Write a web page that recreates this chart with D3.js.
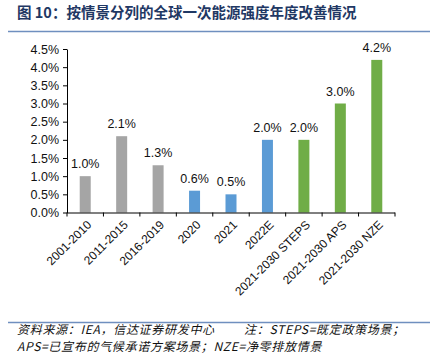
<!DOCTYPE html>
<html><head><meta charset="utf-8">
<script src="https://cdn.jsdelivr.net/npm/d3@7"></script>
<style>
body{margin:0;background:#fff;}
svg{display:block;}
text{font-family:"Liberation Sans",Arial,sans-serif;}
</style></head>
<body><svg id="c" width="430" height="355"></svg>
<script>
const categories = ["2001-2010","2011-2015","2016-2019","2020","2021","2022E","2021-2030 STEPS","2021-2030 APS","2021-2030 NZE"];
const values = [1.0, 2.1, 1.3, 0.6, 0.5, 2.0, 2.0, 3.0, 4.2];
const groups = ["hist","hist","hist","recent","recent","recent","scen","scen","scen"];
const yTicks = [0,0.5,1.0,1.5,2.0,2.5,3.0,3.5,4.0,4.5];
const title = "图 10：按情景分列的全球一次能源强度年度改善情况";
const note1a = "资料来源：IEA，信达证券研发中心";
const note1b = "注：STEPS=既定政策场景；";
const note2 = "APS=已宣布的气候承诺方案场景；NZE=净零排放情景";

const colors = {hist:"#A5A5A5", recent:"#5B9BD5", scen:"#70AD47"};
const svg = d3.select("#c");
const cjk = '"Noto Sans CJK SC", sans-serif';

svg.append("text").attr("x",17).attr("y",18).attr("font-size",14.5).attr("font-weight","bold")
  .attr("fill","#1F3864").style("font-family",cjk).text(title);
svg.append("line").attr("x1",8).attr("x2",430).attr("y1",31.5).attr("y2",31.5).attr("stroke","#6F8FBF").attr("stroke-width",1.5);

const x = d3.scaleBand().domain(categories).range([67,395]).paddingInner(0).paddingOuter(0);
const y = d3.scaleLinear().domain([0,4.5]).range([212.5,49]);

const yAxis = svg.append("g").attr("transform","translate(67,0)")
  .call(d3.axisLeft(y).tickValues(yTicks).tickFormat(d=>d.toFixed(1)+"%").tickSize(4).tickSizeOuter(0));
yAxis.selectAll("text").attr("font-size",12.5).attr("fill","#111").attr("dx",-1);
yAxis.select(".domain").attr("stroke","#000");
yAxis.selectAll(".tick line").attr("stroke","#000");

const bw = 11;
svg.selectAll("rect.bar").data(categories).join("rect").attr("class","bar")
  .attr("x",d=>x(d)+x.bandwidth()/2-bw/2).attr("width",bw)
  .attr("y",(d,i)=>y(values[i])).attr("height",(d,i)=>y(0)-y(values[i]))
  .attr("fill",(d,i)=>colors[groups[i]]);

svg.selectAll("text.val").data(categories).join("text").attr("class","val")
  .attr("x",d=>x(d)+x.bandwidth()/2).attr("y",(d,i)=>y(values[i])-8)
  .attr("text-anchor","middle").attr("font-size",12.5).attr("fill","#111")
  .text((d,i)=>values[i].toFixed(1)+"%");

const xg = svg.append("g");
xg.append("line").attr("x1",67).attr("x2",395).attr("y1",y(0)+0.5).attr("y2",y(0)+0.5).attr("stroke","#000");
const bounds = categories.map(d=>x(d)).concat([395]);
xg.selectAll("line.t").data(bounds).join("line").attr("class","t")
  .attr("x1",d=>d).attr("x2",d=>d).attr("y1",y(0)).attr("y2",y(0)+4).attr("stroke","#000");

svg.selectAll("text.xl").data(categories).join("text").attr("class","xl")
  .attr("transform",d=>`translate(${x(d)+x.bandwidth()/2+4},${y(0)+10}) rotate(-45)`)
  .attr("text-anchor","end").attr("font-size",12).attr("fill","#111").attr("dy","0.35em")
  .text(d=>d);

svg.append("line").attr("x1",8).attr("x2",430).attr("y1",322.5).attr("y2",322.5).attr("stroke","#6F8FBF").attr("stroke-width",1.5);
const foot = (tx,xx,yy)=>svg.append("text").attr("x",xx).attr("y",yy).attr("font-size",12).attr("font-style","italic")
  .attr("letter-spacing",0.7).attr("fill","#111").style("font-family",cjk).text(tx);
foot(note1a,17,333.5);
foot(note1b,244,333.5);
foot(note2,17,351);
</script></body></html>
